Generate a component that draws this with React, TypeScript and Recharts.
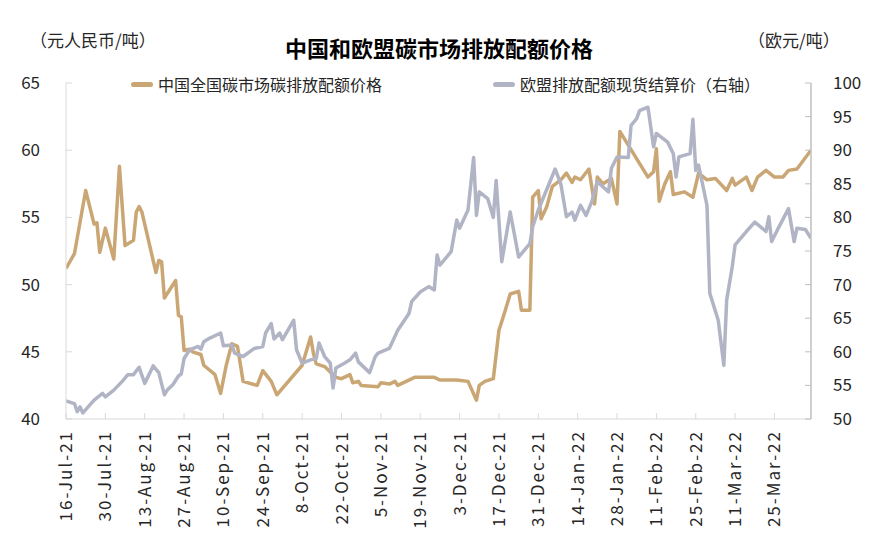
import React from 'react';
import { LineChart, Line, XAxis, YAxis, Legend } from 'recharts';

// day offsets are counted from 16-Jul-21
const startDate = Date.UTC(2021, 6, 16);
const monthNames = ['Jan', 'Feb', 'Mar', 'Apr', 'May', 'Jun', 'Jul', 'Aug', 'Sep', 'Oct', 'Nov', 'Dec'];

const cnDays = [
  0, 3, 7, 10, 11, 12, 14, 17, 19, 21, 24, 25, 26, 27, 32, 33, 34, 35, 39, 40, 41, 42, 44, 45, 48, 49, 53,
  55, 57, 59, 61, 63, 68, 70, 73, 75, 84, 87, 88, 89, 92, 94, 96, 98, 101, 102, 104, 105, 111, 112, 115,
  117, 118, 124, 126, 131, 133, 139, 143, 146, 147, 149, 152, 154, 156, 158, 161, 162, 165, 166, 168, 169,
  171, 173, 176, 178, 180, 181, 183, 186, 188, 189, 191, 194, 196, 197, 207, 209, 210, 211, 213, 215, 216,
  220, 223, 225, 228, 231, 235, 237, 238, 242, 244, 246, 249, 252, 255, 257, 260, 265,
];
const cnPrices = [
  51.2, 52.3, 57.0, 54.5, 54.6, 52.4, 54.2, 51.9, 58.8, 52.9, 53.3, 55.4, 55.8, 55.4, 50.9, 51.8, 51.7, 49.0,
  50.3, 47.7, 47.6, 45.1, 45.2, 45.0, 44.8, 44.0, 43.3, 41.9, 44.0, 45.6, 45.4, 42.8, 42.5, 43.6, 42.8, 41.8,
  44.0, 46.1, 44.9, 44.1, 43.9, 43.5, 43.1, 43.0, 43.3, 42.7, 42.8, 42.5, 42.4, 42.7, 42.6, 42.8, 42.5, 43.1,
  43.1, 43.1, 42.9, 42.9, 42.8, 41.4, 42.5, 42.8, 43.0, 46.6, 47.9, 49.3, 49.5, 48.1, 48.1, 56.5, 57.0, 54.9,
  55.8, 57.3, 57.8, 58.3, 57.6, 58.0, 57.8, 58.6, 56.0, 58.0, 57.5, 57.9, 56.0, 61.4, 58.0, 58.4, 60.1, 56.2,
  57.5, 58.4, 56.7, 56.9, 56.5, 58.3, 57.8, 57.9, 57.0, 57.9, 57.4, 58.0, 57.0, 58.0, 58.5, 58.0, 58.0, 58.5,
  58.6, 60.0,
];

const euDays = [
  0, 3, 4, 5, 6, 10, 13, 14, 17, 20, 22, 24, 26, 28, 31, 33, 35, 36, 38, 40, 41, 42, 44, 47, 48, 49, 51, 55,
  56, 59, 60, 63, 67, 70, 71, 73, 74, 76, 77, 81, 82, 84, 87, 89, 90, 92, 94, 95, 96, 99, 101, 103, 104, 108,
  110, 111, 115, 118, 122, 123, 126, 129, 131, 132, 133, 137, 139, 140, 143, 145, 146, 147, 150, 152, 153,
  155, 158, 161, 165, 166, 168, 174, 176, 178, 180, 181, 183, 185, 187, 189, 193, 194, 196, 200, 201, 203,
  204, 207, 209, 210, 214, 216, 217, 218, 222, 223, 224, 225, 228, 229, 232, 234, 235, 237, 238, 242, 245,
  249, 250, 251, 253, 257, 259, 260, 263, 265,
];
const euPrices = [
  52.7, 52.3, 51.1, 51.8, 50.9, 52.8, 53.8, 53.3, 54.3, 55.6, 56.6, 56.6, 57.7, 55.3, 57.9, 56.9, 53.6, 54.3,
  55.1, 56.4, 56.7, 59.0, 60.3, 60.8, 60.4, 61.5, 62.0, 62.8, 60.9, 61.0, 59.8, 59.3, 60.5, 60.8, 62.8, 64.2,
  61.9, 62.8, 61.8, 64.7, 60.3, 58.3, 58.8, 59.0, 61.3, 59.3, 58.3, 54.6, 57.6, 58.3, 58.8, 59.8, 58.5, 56.9,
  59.3, 59.8, 60.5, 63.2, 65.7, 67.5, 68.9, 69.7, 69.2, 74.4, 72.9, 74.9, 79.6, 78.4, 81.1, 88.9, 80.3, 83.8,
  82.8, 80.0, 85.5, 73.4, 80.8, 74.1, 76.1, 78.6, 81.1, 87.2, 85.0, 80.1, 80.8, 79.6, 81.8, 80.3, 82.3, 85.3,
  83.8, 87.3, 89.0, 88.9, 93.7, 94.7, 95.9, 96.4, 90.5, 92.5, 91.2, 89.5, 86.0, 89.0, 89.5, 94.6, 87.0, 87.8,
  81.8, 68.7, 64.7, 58.0, 67.7, 72.7, 75.9, 77.9, 79.3, 77.9, 80.1, 76.4, 78.1, 81.3, 76.4, 78.4, 78.2, 76.9,
];

const xTicks = [0, 14, 28, 42, 56, 70, 84, 98, 112, 126, 140, 154, 168, 182, 196, 210, 224, 238, 252];
const leftTicks = [40, 45, 50, 55, 60, 65];
const rightTicks = [50, 55, 60, 65, 70, 75, 80, 85, 90, 95, 100];

const cnName = '中国全国碳市场碳排放配额价格';
const euName = '欧盟排放配额现货结算价（右轴）';

const cnData = cnDays.map((d, i) => ({ day: d, cn: cnPrices[i] }));
const euData = euDays.map((d, i) => ({ day: d, eu: euPrices[i] }));

const CN_COLOR = '#CAA674';
const EU_COLOR = '#B1B4C5';
const FONT = '"Noto Sans CJK SC", "Noto Sans", sans-serif';

const formatDay = (d: number) => {
  const dt = new Date(startDate + d * 86400000);
  return `${dt.getUTCDate()}-${monthNames[dt.getUTCMonth()]}-${String(dt.getUTCFullYear()).slice(2)}`;
};

const LeftTick = (props: any) => {
  const { x, y, payload } = props;
  return (
    <g>
      <line x1={x + 26} x2={x + 32} y1={y} y2={y} stroke="#d9d9d9" />
      <text x={x} y={y} dy={6} textAnchor="end" fontSize={17} fill="#262626" fontFamily={FONT}>
        {payload.value}
      </text>
    </g>
  );
};

const RightTick = (props: any) => {
  const { x, y, payload } = props;
  return (
    <g>
      <line x1={x - 28} x2={x - 22} y1={y} y2={y} stroke="#bfbfbf" />
      <text x={x} y={y} dy={6} textAnchor="start" fontSize={17} fill="#262626" fontFamily={FONT}>
        {payload.value}
      </text>
    </g>
  );
};

const BottomTick = (props: any) => {
  const { x, y, payload } = props;
  return (
    <g>
      <line x1={x} x2={x} y1={y - 17} y2={y - 11} stroke="#d9d9d9" />
      <text
        x={x}
        y={y}
        dy={6}
        textAnchor="end"
        transform={`rotate(-90, ${x}, ${y})`}
        fontSize={17}
        letterSpacing={2}
        fill="#262626"
        fontFamily={FONT}
      >
        {formatDay(payload.value)}
      </text>
    </g>
  );
};

const renderLegend = () => (
  <div style={{ position: 'relative', height: 22, fontFamily: FONT, fontSize: 16, color: '#262626' }}>
    <div style={{ position: 'absolute', left: 131, top: 0, display: 'flex', alignItems: 'center' }}>
      <span style={{ width: 22, height: 5, borderRadius: 3, background: CN_COLOR, marginRight: 5 }} />
      <span>{cnName}</span>
    </div>
    <div style={{ position: 'absolute', left: 493, top: 0, display: 'flex', alignItems: 'center' }}>
      <span style={{ width: 22, height: 5, borderRadius: 3, background: EU_COLOR, marginRight: 5 }} />
      <span>{euName}</span>
    </div>
  </div>
);

export default function App() {
  return (
    <div style={{ position: 'absolute', left: 0, top: 0, width: 878, height: 541, background: '#fff' }}>
      <div
        style={{
          position: 'absolute', left: 0, width: 878, top: 32, textAlign: 'center',
          fontFamily: FONT, fontSize: 22, fontWeight: 'bold', color: '#000', lineHeight: '30px',
        }}
      >
        中国和欧盟碳市场排放配额价格
      </div>
      <div style={{ position: 'absolute', left: 30, top: 27, fontFamily: FONT, fontSize: 17, color: '#262626' }}>
        （元人民币/吨）
      </div>
      <div style={{ position: 'absolute', left: 748, top: 27, fontFamily: FONT, fontSize: 17, color: '#262626' }}>
        （欧元/吨）
      </div>
      <LineChart width={878} height={541} margin={{ top: 83, right: 0, bottom: 0, left: 0 }}>
        <XAxis
          type="number"
          dataKey="day"
          domain={[0, 265]}
          ticks={xTicks}
          height={122}
          tickSize={0}
          tickMargin={11}
          tick={<BottomTick />}
          axisLine={{ stroke: '#d9d9d9' }}
          tickLine={false}
          allowDataOverflow
        />
        <YAxis
          yAxisId="left"
          orientation="left"
          width={66}
          domain={[40, 65]}
          ticks={leftTicks}
          tickSize={0}
          tickMargin={26}
          tick={<LeftTick />}
          axisLine={{ stroke: '#d9d9d9' }}
          tickLine={false}
        />
        <YAxis
          yAxisId="right"
          orientation="right"
          width={67}
          domain={[50, 100]}
          ticks={rightTicks}
          tickSize={0}
          tickMargin={22}
          tick={<RightTick />}
          axisLine={{ stroke: '#bfbfbf', strokeWidth: 1.5 }}
          tickLine={false}
        />
        <Legend
          layout="horizontal"
          verticalAlign="middle"
          align="center"
          content={renderLegend}
          wrapperStyle={{ position: 'absolute', top: 72, left: 0, width: 878, height: 22 }}
        />
        <Line
          yAxisId="left"
          data={cnData}
          dataKey="cn"
          name={cnName}
          stroke={CN_COLOR}
          strokeWidth={3.5}
          strokeLinejoin="round"
          dot={false}
          isAnimationActive={false}
        />
        <Line
          yAxisId="right"
          data={euData}
          dataKey="eu"
          name={euName}
          stroke={EU_COLOR}
          strokeWidth={3.5}
          strokeLinejoin="round"
          dot={false}
          isAnimationActive={false}
        />
      </LineChart>
    </div>
  );
}
